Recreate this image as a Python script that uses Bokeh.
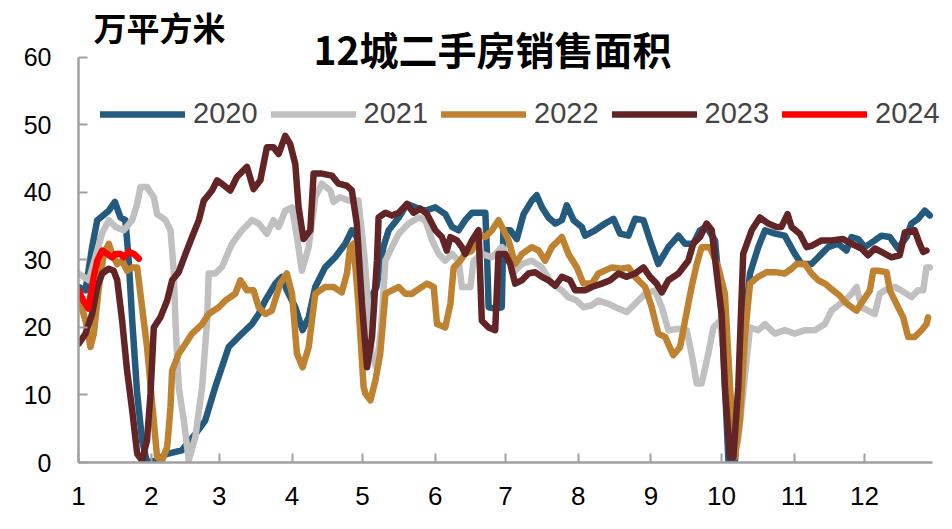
from bokeh.plotting import figure
from bokeh.models import Range1d, Label, Legend, LegendItem, FixedTicker
from bokeh.embed import file_html
from bokeh.resources import INLINE

# ---- data (x = day of year, y = 万平方米, 7-day smoothed) ----
days_2020 = [1, 4, 6.8, 9, 13.9, 16.5, 18.9, 21, 22.4, 23.9, 26, 28.1, 30.2, 34.5, 38, 45, 50.8, 55, 59.3, 62.1,
             65, 69.2, 74.9, 77.8, 80.6, 84.9, 87.7, 89.8, 93.4, 96.5, 99.1, 101.9, 106.1, 110.4, 114.7, 117.5, 119.6, 122, 125, 128,
             131, 133.2, 137.5, 141, 144.6, 148.8, 153.1, 157.3, 160.2, 163, 165.8, 168.7, 174.4, 175.1, 175.8, 178.6, 181.4, 182.1, 185, 187.8,
             190.7, 194.2, 196.3, 198.5, 201.3, 204.2, 207, 209.1, 212, 215.5, 216.9, 221.2, 225.4, 229, 231.8, 235.4, 238.2, 241.8, 244.6, 248.1,
             252.4, 256.7, 259.5, 263, 265.9, 268.7, 272.3, 275.1, 278, 280.8, 285, 287.2, 290.7, 293.6, 297.8, 302, 306.3, 309.2, 313.4, 317.7,
             320.5, 324.8, 328.3, 330.5, 333.3, 336.1, 340.4, 343.2, 346.8, 350.3, 353.9, 356, 358.8, 361.7, 363.8]
vals_2020 = [26, 25.5, 31.9, 35.9, 37.3, 38.6, 36.3, 35.9, 29.9, 21, 10.2, 3.3, 0, 0.3, 1.2, 1.8, 4.2, 6.2, 11.2, 14.1,
             17.1, 18.6, 20.5, 22, 24, 26.5, 27.5, 25.5, 23, 19.6, 21.5, 26, 28.9, 30.4, 32.4, 34.4, 33.4, 25, 24, 26,
             32, 34.4, 36.3, 38.3, 37.8, 37.3, 37.8, 36.8, 34.9, 34.4, 35.9, 37, 37, 30.9, 23, 22.8, 23, 34.4, 34.4, 33.1,
             36.8, 38.8, 39.6, 37.8, 36.3, 35.4, 35.9, 38.1, 35.9, 34.9, 33.6, 34.4, 35.4, 36.1, 33.9, 33.6, 36.1, 35.9, 32.9, 29.4,
             31.9, 33.6, 32.4, 32.4, 34.4, 34.9, 32.9, 22, 0.3, 0.3, 21, 28, 31.9, 34.4, 33.9, 33.6, 30.9, 29.4, 29.4, 30.9,
             31.9, 32.4, 31.4, 33.4, 33.1, 31.9, 32.9, 33.6, 33.4, 31.7, 33.4, 35.4, 36.1, 37.3, 36.6]

days_2021 = [1, 5.4, 11.1, 13.9, 16.8, 20.3, 23.9, 26, 27.4, 30.2, 33.1, 34.5, 38.1, 40.2, 41.6, 42.3, 43.7, 45.9, 48, 50.8,
             53.7, 55.8, 56.5, 59.3, 62.2, 66.4, 70.7, 74.9, 77.8, 81.3, 84.1, 86.3, 89.1, 92, 94.1, 96.2, 99.1, 101.9, 104.7, 108.3,
             109.7, 112.5, 116.1, 120.3, 123, 126, 128, 130, 131.8, 134.6, 137.5, 141.7, 146, 148.8, 151.7, 154.5, 157.3, 160.2, 163, 164.4,
             168, 169.4, 172.9, 177.2, 181.5, 187.1, 190, 194.2, 198.5, 202.7, 207, 209.8, 213.4, 216.2, 219.8, 222.6, 226.9, 231.1, 234.7, 238.2,
             242.5, 246.7, 249.6, 252.4, 256.7, 260.2, 262.3, 264.5, 266.6, 269.4, 271.6, 274.4, 279, 282, 284.5, 287.2, 290.7, 293.6, 297.8, 302,
             306.3, 310.6, 314.8, 319.1, 321.9, 324.8, 327.6, 330.5, 332.6, 334.7, 337.5, 340.4, 342.5, 344.6, 348.9, 351.7, 356, 358.8, 361, 362.4,
             363.8]
vals_2021 = [28, 27, 34, 35.9, 34.9, 34.4, 35.9, 38.3, 40.8, 40.8, 39.3, 36.8, 35.9, 34.4, 28.4, 21, 11.2, 6.2, 0.3, 3.8,
             11.2, 21, 28, 28, 29, 32.4, 34.4, 35.9, 35.4, 33.9, 35.9, 34.9, 37.3, 37.8, 33.4, 28.4, 31.9, 39.3, 41.3, 40.3,
             38.6, 39.3, 38.8, 38.8, 30, 16, 14, 20, 29.9, 31.9, 33.9, 35.4, 36.3, 35.9, 32.9, 30.9, 29.9, 30.9, 29.9, 26,
             26, 29.9, 30.9, 30.4, 31.9, 28.4, 29.4, 29.9, 28.9, 26.5, 25.5, 24.5, 24, 23, 23.3, 24, 23.5, 22.8, 22.3, 23.5,
             25, 25.5, 23, 19.6, 19.8, 19.6, 16.1, 11.7, 11.7, 16.1, 20, 21, 8, 3, 11, 20, 19.6, 20.5, 19.1, 19.6,
             19.1, 19.6, 19.6, 20.5, 22.5, 23.3, 24, 25, 26, 23, 22.5, 22, 25, 25.5, 26, 25.5, 24.5, 25.5, 25.5, 28.9,
             28.9]

days_2022 = [1.1, 4, 6.1, 7.5, 9.7, 11.8, 13.9, 15.3, 17.5, 19.6, 21.7, 23.9, 26, 28.1, 30.2, 32.4, 34.5, 36.6, 38.8, 40.2,
             40.9, 43.7, 46.6, 49.4, 53.7, 56.5, 60.8, 63.6, 67.8, 70, 72.8, 75.6, 77.8, 80.6, 83.4, 87, 89.8, 92, 94.1, 96.5,
             99.1, 101.9, 106.1, 109.7, 113.2, 115.4, 116.8, 118.2, 120.3, 122.5, 123.3, 125.4, 127.5, 129.6, 131.8, 134.6, 137.5, 140.3, 143.1, 146,
             149.5, 152.4, 153.8, 157.3, 159.5, 160.9, 163.7, 165.8, 168.7, 171.5, 174.4, 177.2, 180, 182.2, 184.3, 187.1, 190, 194.2, 197.1, 199.9,
             202.7, 207, 209.8, 213.4, 216.2, 219.8, 222.6, 228.3, 232.5, 235.4, 238.2, 242.5, 245.3, 248.1, 251, 254.5, 257.4, 259.5, 262.3, 264.5,
             266.6, 270.1, 273.7, 276.5, 278.7, 280.8, 282.9, 285, 287.2, 290.7, 294.3, 297.8, 302, 304.9, 307, 310.6, 313.4, 316.3, 319.1, 321.9,
             325.5, 327.6, 330.5, 332.6, 335.4, 338.3, 339.7, 341.8, 345.4, 346.8, 349.6, 352.5, 354.6, 357.4, 360.3, 362.4, 363.1]
vals_2022 = [24.5, 21, 17.1, 19, 26, 30.9, 32.4, 30.9, 29.4, 29.9, 28.4, 28.9, 28.9, 23, 17.1, 8.7, 0.8, 0.3, 2.3, 8.2,
             13.6, 16.1, 17.6, 19.1, 20.5, 22, 23, 24, 25, 27, 25.5, 25.5, 23, 22, 22.5, 26.5, 28, 25, 16.1, 14.1,
             17.1, 25, 26, 26, 25.2, 28, 31.9, 32.4, 23.5, 11.2, 10.2, 9.2, 12.1, 16.1, 25, 25.5, 26, 25, 25, 25.7,
             26.5, 26, 20.5, 20, 23.5, 28.9, 29.9, 30.9, 31.4, 33.9, 33.4, 34.4, 35.9, 34.4, 32.9, 29.4, 30.9, 31.9, 31.4, 29.9,
             31.9, 33.4, 30.9, 28.9, 26.5, 26.5, 28, 28.9, 28.7, 28.9, 27.5, 26, 23, 19.1, 18.6, 15.9, 17.1, 21, 26, 29.4,
             31.9, 31.9, 28.9, 25, 11.2, 0.8, 6.2, 18.6, 26.5, 27.5, 28.2, 28.2, 28, 28.7, 29.4, 29.4, 28, 27, 26.5, 25.7,
             24.7, 23.8, 23, 22.5, 24, 25.5, 28.4, 28.4, 28.2, 25.5, 23.5, 21.5, 18.6, 18.6, 19.6, 20.5, 21.5]

days_2023 = [1.1, 4, 6.8, 9, 11.1, 13.9, 16, 17.5, 19.6, 21.7, 23.9, 26, 28.1, 30.2, 31.7, 33.1, 35.9, 38.8, 40.9, 43.7,
             46.6, 49.4, 52.3, 54.4, 57.9, 60.1, 62.1, 65.7, 68.5, 72.8, 75.6, 78.5, 81.3, 84.1, 86.3, 89.1, 91.2, 93.4, 94.8, 96.9,
             99.8, 101.2, 104.7, 109, 111.8, 115.4, 117.5, 119.6, 121.8, 124, 126.1, 128.2, 128.9, 131.8, 134.6, 137.5, 141, 143.8, 146.7, 149.5,
             153.1, 155.9, 158, 159.5, 162.3, 164.4, 165.8, 168.7, 171.5, 172.9, 175.8, 178.6, 180, 182.9, 185, 187.1, 190, 192.8, 195.6, 198.5,
             201.3, 204.2, 207, 210.5, 212.7, 216.9, 219.8, 224, 227.6, 231.1, 234.7, 238.2, 241.8, 244.6, 247.4, 249.6, 252.4, 256.7, 260.9, 263,
             265.9, 268.7, 270.9, 273, 275.1, 276.5, 278.7, 280.1, 282.2, 284.3, 287.9, 291.4, 295, 298.5, 300.6, 303.2, 304.9, 308.4, 311.3, 313.4,
             317.7, 321.9, 326.9, 330.5, 334.7, 337.5, 340.4, 343.2, 347.5, 351, 353.2, 357.4, 359.5, 361, 362.4]
vals_2023 = [17.6, 19.1, 22, 26, 28, 28.7, 28.4, 27, 21, 13.6, 7.7, 1.3, 0.3, 3.3, 10.2, 20, 21.5, 24, 27, 28.2,
             30.9, 33.4, 35.9, 38.8, 40.3, 41.8, 41.3, 40.3, 42.3, 43.8, 40.5, 41.8, 46.7, 46.7, 45.7, 48.4, 47.2, 44.2, 37.8, 33.1,
             34.4, 42.8, 42.8, 42.5, 41.3, 41, 40.3, 35.4, 23.5, 14.1, 18.6, 29.9, 36.3, 37, 36.6, 37, 38.3, 37, 37.6, 36.8,
             34.4, 33.4, 31.4, 33.4, 32.9, 31.9, 30.9, 32.9, 34.4, 21, 20, 19.6, 30.9, 30.9, 29.4, 26.5, 27, 28, 28.2, 27.5,
             27, 26.2, 27.5, 27, 25.5, 25.5, 26, 26.5, 27, 28, 27.5, 28, 28.9, 27.5, 26.5, 25.2, 27, 28, 29.9, 32.4,
             33.4, 35.4, 34.4, 28, 22, 11.2, 0.8, 0.8, 11.2, 30.9, 34.4, 36.3, 35.4, 34.9, 34.9, 36.8, 34.9, 33.9, 31.9, 32.1,
             32.9, 32.9, 33.1, 32.4, 31.7, 30.7, 31.7, 31.2, 30.4, 30.7, 34.1, 34.4, 32.4, 31.2, 31.4]

days_2024 = [1, 3, 5.2, 7.5, 9, 11.1, 13.2, 15.3, 16.8, 18.9, 20.3, 22.4, 24.6, 26.7]
vals_2024 = [25.5, 24, 22.8, 27.5, 29.9, 31.4, 30.9, 30.4, 30.9, 30.9, 30.4, 31.2, 30.9, 30.2]

years = ["2020", "2021", "2022", "2023", "2024"]
colors = ["#245A7E", "#C0C0C0", "#BF8230", "#622425", "#FF0000"]
series_days = [days_2020, days_2021, days_2022, days_2023, days_2024]
series_vals = [vals_2020, vals_2021, vals_2022, vals_2023, vals_2024]

month_start_days = [1, 32, 61, 92, 122, 153, 183, 214, 245, 275, 306, 336]
month_labels = ["1", "2", "3", "4", "5", "6", "7", "8", "9", "10", "11", "12"]
y_ticks = [0, 10, 20, 30, 40, 50, 60]
y_axis_max = 60
x_axis_end = 365

title_text = "12城二手房销售面积"
unit_text = "万平方米"

# ---- figure ----
# the frame fills the canvas to the top and right so that the title, unit and
# legend texts are not clipped; axis lines are bounded to the data extent
p = figure(width=952, height=529, output_backend="svg", toolbar_location=None,
           x_range=Range1d(1, 373.5), y_range=Range1d(0, 68.44),
           min_border_left=78, min_border_right=0, min_border_top=0, min_border_bottom=67)
p.outline_line_color = None
p.xgrid.visible = False
p.ygrid.visible = False
p.background_fill_color = "white"
p.border_fill_color = "white"

renderers = []
for d, v, c in zip(series_days, series_vals, colors):
    assert len(d) == len(v)
    r = p.line(d, v, line_color=c, line_width=6.5, line_join="round", line_cap="round")
    renderers.append(r)

# axes
for ax in (p.xaxis[0], p.yaxis[0]):
    ax.axis_line_color = "#A0A0A0"
    ax.axis_line_width = 2.5
    ax.major_tick_line_color = "#A0A0A0"
    ax.major_tick_line_width = 2
    ax.major_tick_in = 9
    ax.major_tick_out = 0
    ax.minor_tick_line_color = None
    ax.major_label_text_color = "black"

p.xaxis[0].ticker = FixedTicker(ticks=month_start_days)
p.xaxis[0].bounds = (1, x_axis_end)
p.xaxis[0].major_label_overrides = {d: l for d, l in zip(month_start_days, month_labels)}
p.xaxis[0].major_label_text_font = "Liberation Sans"
p.xaxis[0].major_label_text_font_size = "26px"
p.xaxis[0].major_label_standoff = 24

p.yaxis[0].ticker = FixedTicker(ticks=y_ticks)
p.yaxis[0].bounds = (0, y_axis_max)
p.yaxis[0].major_label_text_font = "Liberation Sans"
p.yaxis[0].major_label_text_font_size = "25px"
p.yaxis[0].major_label_standoff = 27

# legend
legend = Legend(items=[LegendItem(label=y, renderers=[r]) for y, r in zip(years, renderers)],
                orientation="horizontal", location=(22, 332),
                glyph_width=85, glyph_height=30, label_height=30,
                label_standoff=8, spacing=13, padding=0, margin=0,
                label_text_font="Liberation Sans", label_text_font_size="29px",
                border_line_color=None, background_fill_alpha=0)
p.add_layout(legend)

# title and unit
p.add_layout(Label(x=414, y=415, x_units="screen", y_units="screen", text=title_text,
                   text_font="Noto Sans CJK SC", text_font_style="bold", text_font_size="39px",
                   text_align="center", text_baseline="middle", text_color="black"))
p.add_layout(Label(x=15, y=436, x_units="screen", y_units="screen", text=unit_text,
                   text_font="Noto Sans CJK SC", text_font_style="bold", text_font_size="33px",
                   text_align="left", text_baseline="middle", text_color="black"))

open("out.html", "w").write(file_html(p, INLINE))
